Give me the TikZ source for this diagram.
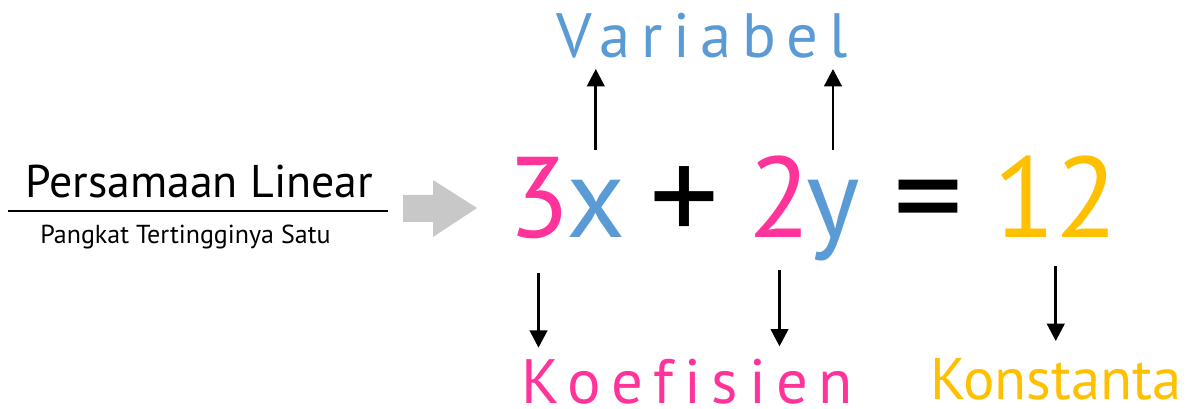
\documentclass[tikz,border=0pt]{standalone}
\usepackage{fontspec}
\setmainfont{PT Sans}
\newfontfamily\spaced[LetterSpace=17, Ligatures=NoCommon]{PT Sans}
\usepackage{tikz}
\usetikzlibrary{arrows.meta}
\definecolor{kpink}{HTML}{FF3399}
\definecolor{kblue}{HTML}{5B9BD5}
\definecolor{kgold}{HTML}{FFC000}
\definecolor{kgray}{HTML}{C8C8C8}
\tikzstyle{eqn} = [inner sep=0pt, anchor=base west, font=\fontsize{86pt}{86pt}\selectfont,
    text height=60pt, text depth=19pt]
\tikzstyle{opsign} = [inner sep=0pt, anchor=base west, font=\fontsize{104pt}{104pt}\selectfont]
\tikzstyle{label} = [inner sep=0pt, anchor=base west, font=\fontsize{47pt}{47pt}\selectfont,
    text height=34pt, text depth=0pt]
\tikzstyle{arr} = [line width=2.2pt, -{Triangle[width=13pt,length=13pt]}]

\begin{document}
\begin{tikzpicture}[x=0.75pt, y=-0.75pt]
                \useasboundingbox (0,0) rectangle (1189,409);
                % left title
                \node [inner sep=0pt, anchor=base west, font=\fontsize{34.4pt}{34pt}\selectfont] (title) at (25,198) {Persamaan Linear};
                \node [inner sep=0pt, anchor=base west, font=\fontsize{19.5pt}{20pt}\selectfont] (sub) at (40,244) {Pangkat Tertingginya Satu};
                \draw [line width=2pt] (8,211) -- (388,211);
                % grey arrow
                \fill [kgray] (403,195) -- (433,195) -- (433,180) -- (477,208) -- (433,237) -- (433,222) -- (403,222) -- cycle;
                % equation
                \node [eqn, text=kpink] (n3) at (507,238) {3};
                \node [eqn, text=kblue] (nx) at (566,238) {x};
                \node [opsign] (plus) at (649,244) {+};
                \node [eqn, text=kpink] (n2) at (748,238) {2};
                \node [eqn, text=kblue] (ny) at (806,238) {y};
                \node [opsign] (eq) at (893,244) {=};
                \node [eqn, text=kgold] (n12) at (993,238) {12};
                % labels
                \node [label, text=kblue, font=\fontsize{47pt}{47pt}\spaced] (var) at (556,58) {Variabel};
                \node [label, text=kpink, font=\fontsize{47pt}{47pt}\spaced] (koef) at (521,404) {Koefisien};
                \node [label, text=kgold, font=\fontsize{44pt}{44pt}\selectfont] (konst) at (930,400) {Konstanta};
                % arrows
                \draw [arr, shorten <=6pt, shorten >=8pt] (nx.north) -- (nx.north |- var.south);
                \draw [arr, shorten <=6pt, shorten >=8pt] (ny.north) -- (ny.north |- var.south);
                \draw [arr, shorten <=7pt, shorten >=8pt] (n3.south) -- (n3.south |- koef.north);
                \draw [arr, shorten <=5pt, shorten >=9pt] (n2.south) -- (n2.south |- koef.north);
                \draw [arr, shorten <=2pt, shorten >=10pt] (n12.south) -- (n12.south |- konst.north);
            \end{tikzpicture}
\end{document}
